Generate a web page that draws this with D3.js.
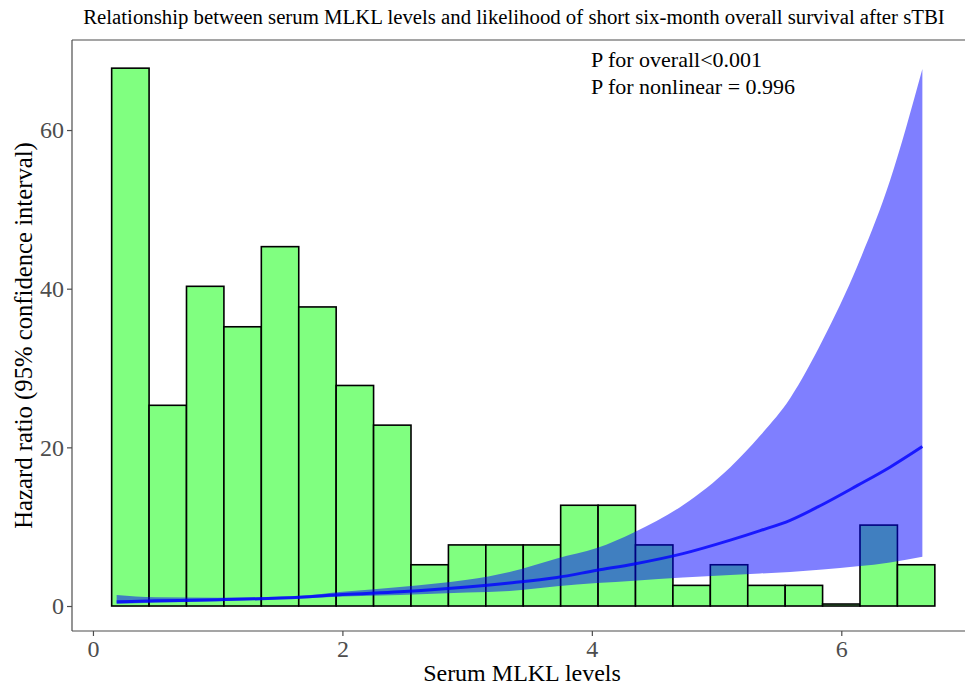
<!DOCTYPE html>
<html lang="en">
<head>
<meta charset="utf-8">
<script src="https://d3js.org/d3.v7.min.js"></script>
<style>
  body { margin: 0; background: #fff; }
  text { font-family: "Liberation Serif", "Times New Roman", serif; }
</style>
</head>
<body>
<script>
// histogram of serum MLKL (bins of 0.3 starting at 0.15)
var binStart = [0.15, 0.45, 0.75, 1.05, 1.35, 1.65, 1.95, 2.25, 2.55, 2.85, 3.15,
                3.45, 3.75, 4.05, 4.35, 4.65, 4.95, 5.25, 5.55, 5.85, 6.15, 6.45];
var binWidth = 0.3;
var binHeight = [67.8, 25.3, 40.3, 35.2, 45.3, 37.7, 27.8, 22.8, 5.2, 7.7, 7.7,
                 7.7, 12.7, 12.7, 7.7, 2.6, 5.2, 2.6, 2.6, 0.25, 10.2, 5.2];

// spline hazard ratio curve and 95% CI
var curveX  = [0.19, 0.5, 1.0, 1.66, 2.0, 2.46, 3.0, 3.34, 3.72, 4.04, 4.34, 4.73, 5.11, 5.35, 5.59, 5.85, 6.13, 6.39, 6.65];
var hr      = [0.54, 0.65, 0.8, 1.1, 1.45, 1.8, 2.4, 2.9, 3.6, 4.5, 5.3, 6.6, 8.3, 9.5, 10.8, 12.8, 15.2, 17.5, 20.1];
var hrLower = [0.25, 0.4, 0.6, 0.95, 1.2, 1.4, 1.7, 1.9, 2.5, 2.9, 3.2, 3.6, 3.9, 4.1, 4.3, 4.6, 5.0, 5.5, 6.2];
var hrUpper = [1.4, 1.1, 1.05, 1.3, 1.8, 2.4, 3.3, 4.3, 6.0, 7.3, 9.3, 12.7, 17.5, 21.5, 26.2, 33.5, 42.9, 53.6, 67.7];

var xTicks = [0, 2, 4, 6];
var yTicks = [0, 20, 40, 60];

var width = 965, height = 687;
var pLeft = 72, pTop = 40, pBottom = 631, pRight = 976;

var svg = d3.select('body').append('svg').attr('width', width).attr('height', height);

var x = d3.scaleLinear().domain([-0.168, 7.08]).range([pLeft, pRight]);
var y = d3.scaleLinear().domain([-3.15, 71.35]).range([pBottom, pTop]);

var bars = binStart.map(function(s, i) { return {x0: s, x1: s + binWidth, h: binHeight[i]}; });
var pts = curveX.map(function(v, i) { return {x: v, hr: hr[i], lo: hrLower[i], hi: hrUpper[i]}; });

// panel border on top
svg.append('line').attr('x1', pLeft).attr('x2', width).attr('y1', pTop).attr('y2', pTop)
  .attr('stroke', '#4d4d4d').attr('stroke-width', 1.2);

// bars
svg.append('g').selectAll('rect')
  .data(bars)
  .join('rect')
  .attr('x', function(d) { return x(d.x0); })
  .attr('width', function(d) { return x(d.x1) - x(d.x0); })
  .attr('y', function(d) { return y(d.h); })
  .attr('height', function(d) { return y(0) - y(d.h); })
  .attr('fill', '#80ff80')
  .attr('stroke', '#000')
  .attr('stroke-width', 1.6);

// confidence band
var band = d3.area()
  .x(function(d) { return x(d.x); })
  .y0(function(d) { return y(d.lo); })
  .y1(function(d) { return y(d.hi); })
  .curve(d3.curveMonotoneX);
svg.append('path').datum(pts)
  .attr('d', band)
  .attr('fill', '#0000ff')
  .attr('fill-opacity', 0.5);

// hazard ratio line
var line = d3.line()
  .x(function(d) { return x(d.x); })
  .y(function(d) { return y(d.hr); })
  .curve(d3.curveMonotoneX);
svg.append('path').datum(pts)
  .attr('d', line)
  .attr('fill', 'none')
  .attr('stroke', '#0000ff')
  .attr('stroke-opacity', 0.8)
  .attr('stroke-width', 3);

// axes
var xAxis = svg.append('g').attr('transform', 'translate(0,' + pBottom + ')')
  .call(d3.axisBottom(x).tickValues(xTicks).tickSize(5).tickPadding(4));
var yAxis = svg.append('g').attr('transform', 'translate(' + pLeft + ',0)')
  .call(d3.axisLeft(y).tickValues(yTicks).tickSize(5).tickPadding(3));
[xAxis, yAxis].forEach(function(g) {
  g.select('.domain').attr('stroke', '#4d4d4d').attr('stroke-width', 1.2);
  g.selectAll('.tick line').attr('stroke', '#4d4d4d').attr('stroke-width', 1.2);
  g.selectAll('.tick text').attr('fill', '#4d4d4d').style('font-size', '24px')
    .style('font-family', '"Liberation Serif", serif');
});
xAxis.select('.domain').attr('d', 'M' + pLeft + ',0H' + width);
yAxis.select('.domain').attr('d', 'M0,' + pBottom + 'V' + pTop);

// labels
svg.append('text')
  .attr('x', 514).attr('y', 24)
  .attr('text-anchor', 'middle')
  .style('font-size', '20.8px')
  .text('Relationship between serum MLKL levels and likelihood of short six-month overall survival after sTBI');

svg.append('text')
  .attr('x', 522).attr('y', 681)
  .attr('text-anchor', 'middle')
  .style('font-size', '24px')
  .text('Serum MLKL levels');

svg.append('text')
  .attr('transform', 'translate(32,' + ((pTop + pBottom) / 2) + ') rotate(-90)')
  .attr('text-anchor', 'middle')
  .style('font-size', '24.7px')
  .text('Hazard ratio (95% confidence interval)');

svg.append('text').attr('x', 591).attr('y', 67)
  .style('font-size', '22px').text('P for overall<0.001');
svg.append('text').attr('x', 591).attr('y', 94)
  .style('font-size', '22px').text('P for nonlinear = 0.996');
</script>
</body>
</html>
